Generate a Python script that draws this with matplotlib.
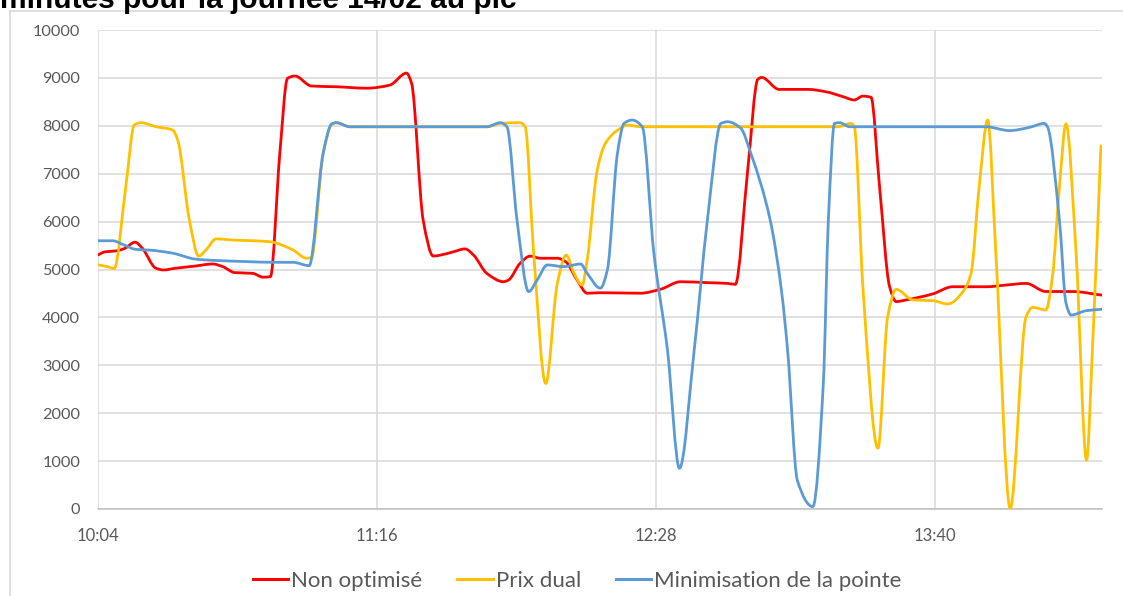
import numpy as np
import matplotlib.pyplot as plt
from matplotlib.path import Path
from matplotlib.patches import PathPatch
from matplotlib.lines import Line2D

# minutes after 10:04
red_t = [0, 2, 5, 7, 9.7, 11.6, 15, 17, 20, 25, 29.7, 32.3, 35.4, 40, 42.7, 44.6, 47, 49, 50.9,
         55.2, 61.6, 69.4, 75.4, 79.7, 81, 84, 86.6, 88.4, 91.8, 94.8, 97, 100.4, 104.7, 106, 109,
         111.6, 114.2, 118.6, 120.7, 123.7, 126.3, 129.7, 140, 145.3, 150.4, 157.3, 162.5, 164.5,
         167.7, 170.3, 171.3, 175.8, 183.2, 187.9, 192.2, 195.2, 197.4, 199.5, 201.7, 204.3, 206,
         208.6, 215.4, 220.6, 229.2, 234.3, 239.5, 244.6, 251.5, 259]
red_v = [5300, 5370, 5390, 5440, 5570, 5440, 5030, 4990, 5025, 5070, 5115, 5060, 4935, 4920, 4840,
         4850, 7400, 8990, 9040, 8830, 8815, 8785, 8850, 9100, 8890, 6030, 5280, 5300, 5370, 5430,
         5300, 4920, 4745, 4780, 5130, 5280, 5235, 5235, 5165, 4780, 4505, 4515, 4505, 4590, 4745,
         4725, 4710, 4690, 7080, 8970, 9010, 8760, 8760, 8710, 8610, 8540, 8620, 8595, 6730, 4640,
         4330, 4365, 4490, 4640, 4640, 4675, 4710, 4540, 4540, 4465]

yellow_t = [0, 2.5, 4.3, 7.3, 9.5, 11.2, 15.1, 19.4, 20.7, 23.7, 26.1, 28, 30.6, 34.9, 40.1, 44.4,
            50.4, 53.9, 55.2, 58.2, 60.4, 61.6, 65.1, 100.4, 103.9, 109, 110.3, 112.5, 115.6,
            118.6, 120.9, 122.9, 125, 126.3, 128.9, 131, 134.9, 136.6, 140.1, 191, 194.4, 195.2,
            197.4, 201.3, 203.8, 206, 210.3, 215.4, 219.3, 223.5, 225.3, 227.4, 229.6, 231.7,
            235.4, 239.5, 241.2, 244.6, 246.3, 248.1, 249.8, 252.4, 255.1, 256.6, 258.8]
yellow_v = [5100, 5060, 5020, 6730, 8020, 8065, 7980, 7910, 7700, 6030, 5280, 5410, 5640, 5615,
            5600, 5580, 5410, 5235, 5255, 7425, 8020, 8065, 7980, 7980, 8050, 8065, 7980, 5340,
            2620, 4710, 5300, 4920, 4675, 5200, 7080, 7635, 7950, 8015, 7980, 7980, 8050, 7980,
            4640, 1270, 4015, 4585, 4365, 4350, 4280, 4570, 4920, 6730, 8120, 5340, 15, 4015,
            4210, 4155, 4850, 6730, 8040, 5340, 1020, 3320, 7580]

blue_t = [0, 3.9, 6.9, 9.9, 13.4, 19.4, 25.4, 31.5, 38.4, 45.3, 50.4, 54.6, 58.2, 60.4, 61.6,
          65.1, 100.4, 103.9, 105.6, 108.2, 111.2, 113.4, 116, 120.3, 124.6, 126.3, 129.7, 131.5,
          134.1, 135.8, 137.9, 140.5, 143.5, 147, 150.1, 153.9, 157.3, 160.8, 162.5, 165.9, 168.5,
          173.5, 176.5, 178, 180.5, 184.5, 187.2, 188.5, 190.1, 191.4, 194, 229.2, 235.2, 240.3,
          244.2, 245, 248.1, 249.8, 251.1, 255, 259]
blue_v = [5600, 5600, 5510, 5420, 5405, 5340, 5215, 5185, 5165, 5150, 5150, 5080, 7425, 8040,
          8065, 7980, 7980, 8065, 7980, 6030, 4540, 4780, 5095, 5060, 5115, 4920, 4610, 4990,
          7425, 8050, 8120, 7980, 5340, 3320, 850, 3320, 6030, 8050, 8085, 7950, 7425, 6030,
          4500, 3300, 600, 50, 2620, 6030, 8050, 8065, 7980, 7980, 7900, 7965, 8050, 7980, 6030,
          4295, 4050, 4140, 4170]

series = ["Non optimisé", "Prix dual", "Minimisation de la pointe"]
colors = ["#FF0000", "#FFC000", "#5B9BD5"]

tick_minutes = [0, 72, 144, 216]
tick_labels = ["10:04", "11:16", "12:28", "13:40"]


def smooth_path(x, y):
    # cubic Bezier through the points, like Excel's smoothed line
    x = np.asarray(x, float)
    y = np.asarray(y, float)
    h = np.diff(x)
    d = np.diff(y) / h
    m = np.zeros_like(y)
    m[0] = d[0]
    m[-1] = d[-1]
    for i in range(1, len(y) - 1):
        if d[i - 1] * d[i] > 0:
            w1 = 2 * h[i] + h[i - 1]
            w2 = h[i] + 2 * h[i - 1]
            m[i] = (w1 + w2) / (w1 / d[i - 1] + w2 / d[i])
    verts = [(x[0], y[0])]
    codes = [Path.MOVETO]
    for i in range(len(h)):
        verts += [(x[i] + h[i] / 3, y[i] + m[i] * h[i] / 3),
                  (x[i + 1] - h[i] / 3, y[i + 1] - m[i + 1] * h[i] / 3),
                  (x[i + 1], y[i + 1])]
        codes += [Path.CURVE4] * 3
    return Path(verts, codes)


fig = plt.figure(figsize=(11.23, 5.96), dpi=100)
ax = fig.add_axes([97.5 / 1123, 1 - 509 / 596, (1101.7 - 97.5) / 1123, (509 - 30) / 596])

for t, v, c in zip([red_t, yellow_t, blue_t], [red_v, yellow_v, blue_v], colors):
    ax.add_patch(PathPatch(smooth_path(t, v), facecolor="none", edgecolor=c, lw=2.0,
                           capstyle="round", joinstyle="round", zorder=3))

ax.set_xlim(0, 259)
ax.set_ylim(0, 10000)
ax.set_yticks(range(0, 10001, 1000))
ax.set_xticks(tick_minutes)
ax.set_xticklabels(tick_labels)
ax.grid(True, color="#d9d9d9", lw=1.1)
ax.set_axisbelow(True)
for s in ["top", "right", "left"]:
    ax.spines[s].set_visible(False)
ax.spines["bottom"].set_color("#bfbfbf")
ax.spines["bottom"].set_linewidth(1.1)
ax.tick_params(axis="y", length=0, pad=12.5, labelsize=11.7, labelcolor="#595959")
ax.tick_params(axis="x", length=0, pad=13.5, labelsize=12, labelcolor="#595959")
for lab in ax.get_xticklabels() + ax.get_yticklabels():
    lab.set_family("Lato")

# chart border and cut-off title
fig.add_artist(Line2D([10 / 1123, 10 / 1123], [0, 1 - 11 / 596], transform=fig.transFigure,
                      color="#d9d9d9", lw=1.2))
fig.add_artist(Line2D([10 / 1123, 1], [1 - 11 / 596, 1 - 11 / 596], transform=fig.transFigure,
                      color="#d9d9d9", lw=1.2))
fig.text(0, 1 - 7.5 / 596, "minutes pour la journée 14/02 au pic", fontsize=21.5,
         fontweight="bold", family="Liberation Sans", va="baseline", ha="left")

handles = [Line2D([], [], color=c, lw=2.2) for c in colors]
leg = fig.legend(handles, series, loc="center", bbox_to_anchor=(0.514, 0.025), ncol=3,
                 frameon=False, handlelength=1.6, handletextpad=0.15, columnspacing=1.55,
                 prop={"family": "Lato", "size": 16})
for txt in leg.get_texts():
    txt.set_color("#595959")

fig.savefig("out.png", dpi=100)
